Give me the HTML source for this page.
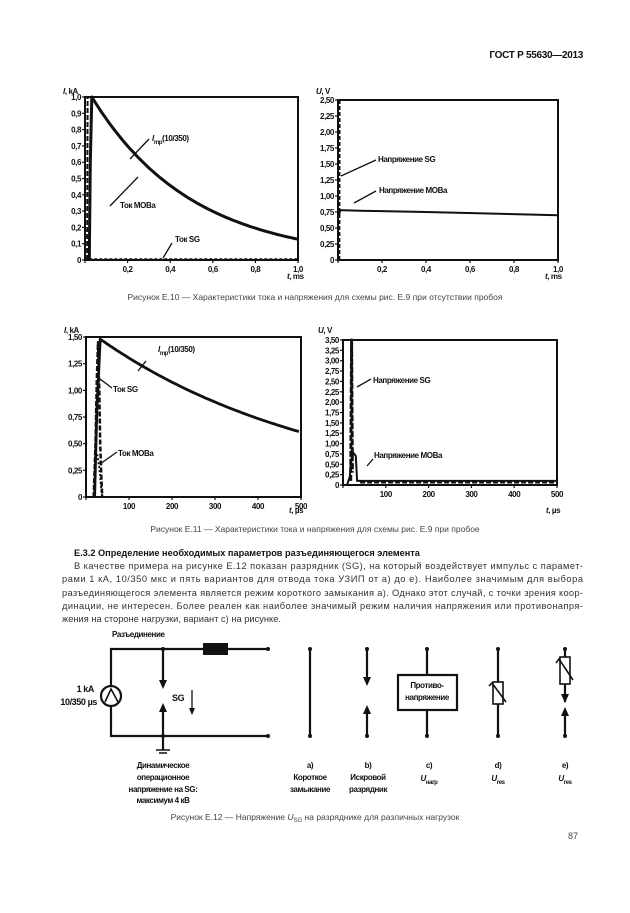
<!DOCTYPE html>
<html><head><meta charset="utf-8"><style>
html,body{margin:0;padding:0;background:#fff}
svg{display:block}
.t{font-family:"Liberation Sans",sans-serif;font-weight:bold;font-size:9px;fill:#111;letter-spacing:-0.3px}
.s{font-family:"Liberation Sans",sans-serif;font-weight:bold;font-size:8px;fill:#111;letter-spacing:-0.4px}
.c{font-family:"Liberation Sans",sans-serif;font-size:8.5px;fill:#444}
.p{font-family:"Liberation Sans",sans-serif;font-size:9.3px;fill:#333}
</style></head><body>
<svg id="sv" width="630" height="913" viewBox="0 0 630 913" xmlns="http://www.w3.org/2000/svg">
<text x="583" y="58" text-anchor="end" class="t" style="font-size:10px">ГОСТ Р 55630—2013</text>

<g id="charts" stroke="#111" fill="none"></g>

<!-- chart labels -->
<text x="63" y="94" class="s"><tspan font-style="italic">I</tspan>, kA</text>
<text x="316" y="94" class="s"><tspan font-style="italic">U</tspan>, V</text>
<text x="152" y="141" class="s"><tspan font-style="italic">I</tspan><tspan dy="3" font-size="6">mp</tspan><tspan dy="-3">(10/350)</tspan></text>
<text x="120" y="208" class="s">Ток MOBa</text>
<text x="175" y="242" class="s">Ток SG</text>
<text x="378" y="162" class="s">Напряжение SG</text>
<text x="379" y="193" class="s">Напряжение MOBa</text>
<text x="287" y="279" class="s"><tspan font-style="italic">t</tspan>, ms</text>
<text x="545" y="279" class="s"><tspan font-style="italic">t</tspan>, ms</text>
<text x="315" y="300" text-anchor="middle" class="c">Рисунок Е.10 — Характеристики тока и напряжения для схемы  рис. Е.9 при отсутствии пробоя</text>

<text x="64" y="333" class="s"><tspan font-style="italic">I</tspan>, kA</text>
<text x="318" y="333" class="s"><tspan font-style="italic">U</tspan>, V</text>
<text x="158" y="352" class="s"><tspan font-style="italic">I</tspan><tspan dy="3" font-size="6">mp</tspan><tspan dy="-3">(10/350)</tspan></text>
<text x="113" y="392" class="s">Ток SG</text>
<text x="118" y="456" class="s">Ток MOBa</text>
<text x="373" y="383" class="s">Напряжение SG</text>
<text x="374" y="458" class="s">Напряжение MOBa</text>
<text x="289" y="513" class="s"><tspan font-style="italic">t</tspan>, µs</text>
<text x="546" y="513" class="s"><tspan font-style="italic">t</tspan>, µs</text>
<text x="315" y="532" text-anchor="middle" class="c">Рисунок Е.11 — Характеристики тока и напряжения для схемы рис. Е.9 при пробое</text>

<!-- text block -->
<text x="74" y="556" class="t" style="font-size:9.2px;letter-spacing:0">Е.3.2 Определение необходимых параметров разъединяющегося элемента</text>
<text x="74" y="569" class="p" textLength="509">В качестве примера на рисунке Е.12 показан разрядник (SG), на который воздействует импульс с парамет-</text>
<text x="62" y="582" class="p" textLength="521">рами 1 кА, 10/350 мкс и пять вариантов для отвода тока УЗИП от а) до е). Наиболее значимым  для выбора</text>
<text x="62" y="596" class="p" textLength="521">разъединяющегося элемента является режим короткого замыкания а). Однако этот случай, с точки зрения коор-</text>
<text x="62" y="609" class="p" textLength="521">динации, не интересен. Более реален как наиболее значимый режим наличия напряжения или противонапря-</text>
<text x="62" y="622" class="p">жения на стороне нагрузки, вариант с) на рисунке.</text>

<!-- circuit -->
<g stroke="#111" stroke-width="2.2" fill="none">
<path d="M111 686 V649 H268 M111 706 V736 H268"/>
<circle cx="111" cy="696" r="10"/>
<path d="M105 702 L111 689 L118 702" stroke-width="1.6"/>
<path d="M163 649 V685 M163 707 V750"/>
<path d="M156 750 H170 M159 753 H167" stroke-width="1.5"/>
<path d="M192 690 V712" stroke-width="1.3"/>
<path d="M310 649 V736"/>
<path d="M367 649 V683 M367 710 V736"/>
<path d="M427 649 V675 M427 710 V736"/>
<rect x="398" y="675" width="59" height="35"/>
<path d="M498 649 V682 M498 704 V736"/>
<rect x="493" y="682" width="10" height="22" stroke-width="1.6"/>
<path d="M489 686 L492 683 L506 702" stroke-width="1.6"/>
<path d="M565 649 V657 M565 684 V702 M565 711 V736"/>
<rect x="560" y="657" width="10" height="27" stroke-width="1.6"/>
<path d="M556 663 L559 659 L573 680" stroke-width="1.6"/>
</g>
<rect x="203" y="643" width="25" height="12" fill="#111"/>
<g fill="#111">
<circle cx="163" cy="649" r="2"/><circle cx="268" cy="649" r="2"/><circle cx="268" cy="736" r="2"/><circle cx="163" cy="736" r="2"/>
<circle cx="310" cy="649" r="2"/><circle cx="310" cy="736" r="2"/>
<circle cx="367" cy="649" r="2"/><circle cx="367" cy="736" r="2"/>
<circle cx="427" cy="649" r="2"/><circle cx="427" cy="736" r="2"/>
<circle cx="498" cy="649" r="2"/><circle cx="498" cy="736" r="2"/>
<circle cx="565" cy="649" r="2"/><circle cx="565" cy="736" r="2"/>
<path d="M159 680 L167 680 L163 689 Z M159 712 L167 712 L163 703 Z"/>
<path d="M189 708 L195 708 L192 715 Z"/>
<path d="M363 677 L371 677 L367 686 Z M363 714 L371 714 L367 705 Z"/>
<path d="M561 694 L569 694 L565 703 Z M561 716 L569 716 L565 707 Z"/>
</g>
<text x="112" y="637" class="s">Разъединение</text>
<text x="172" y="701" class="s" style="font-size:9px">SG</text>
<text x="94" y="692" text-anchor="end" class="s" style="font-size:9px">1 kA</text>
<text x="97" y="705" text-anchor="end" class="s" style="font-size:9px">10/350 µs</text>
<g class="s" text-anchor="middle">
<text x="163" y="768">Динамическое</text><text x="163" y="780">операционное</text><text x="163" y="792">напряжение на SG:</text><text x="163" y="803">максимум 4 кВ</text>
<text x="310" y="768">a)</text><text x="310" y="780">Короткое</text><text x="310" y="792">замыкание</text>
<text x="368" y="768">b)</text><text x="368" y="780">Искровой</text><text x="368" y="792">разрядник</text>
<text x="427" y="688">Противо-</text><text x="427" y="700">напряжение</text>
<text x="429" y="768">c)</text><text x="429" y="781"><tspan font-style="italic">U</tspan><tspan font-size="6" dy="3">нагр</tspan></text>
<text x="498" y="768">d)</text><text x="498" y="781"><tspan font-style="italic">U</tspan><tspan font-size="6" dy="3">res</tspan></text>
<text x="565" y="768">e)</text><text x="565" y="781"><tspan font-style="italic">U</tspan><tspan font-size="6" dy="3">res</tspan></text>
</g>
<text x="315" y="820" text-anchor="middle" class="c">Рисунок Е.12 — Напряжение <tspan font-style="italic">U</tspan><tspan font-size="6" dy="2">SG</tspan><tspan dy="-2"> на разряднике для различных нагрузок</tspan></text>
<text x="578" y="839" text-anchor="end" class="c" style="font-size:9px">87</text>
</svg>
<script>
(function(){
var g=document.getElementById('charts'),NS='http://www.w3.org/2000/svg';
function el(n,a,p){var e=document.createElementNS(NS,n);for(var k in a)e.setAttribute(k,a[k]);(p||g).appendChild(e);return e;}
function txt(x,y,s,anchor){var e=el('text',{x:x,y:y,'class':'s','text-anchor':anchor||'middle',stroke:'none',fill:'#111'});e.textContent=s;}
function chart(o){
 var X=function(v){return o.x0+(v-o.xmin)/(o.xmax-o.xmin)*(o.x1-o.x0)},Y=function(v){return o.y1-(v/o.ymax)*(o.y1-o.y0)};
 el('rect',{x:o.x0,y:o.y0,width:o.x1-o.x0,height:o.y1-o.y0,'stroke-width':2});
 o.yt.forEach(function(v){el('line',{x1:o.x0-3,x2:o.x0,y1:Y(v),y2:Y(v),'stroke-width':1.2});txt(o.x0-4,Y(v)+3,v==0?'0':v.toFixed(o.yd).replace('.',','),'end');});
 o.xt.forEach(function(v){el('line',{x1:X(v),x2:X(v),y1:o.y1,y2:o.y1+3,'stroke-width':1.2});if(v!=0)txt(X(v),o.y1+12,o.xd?v.toFixed(o.xd).replace('.',','):String(v));});
 o.series.forEach(function(s){var d='';for(var i=0;i<s.pts.length;i++){var p=s.pts[i];d+=(i?'L':'M')+X(p[0]).toFixed(1)+' '+Y(p[1]).toFixed(1);}
  el('path',{d:d,'stroke-width':s.w||2.2,'stroke-dasharray':s.dash||'none','stroke-linejoin':'round'});});
 (o.lead||[]).forEach(function(l){el('line',{x1:l[0],y1:l[1],x2:l[2],y2:l[3],'stroke-width':1.3});});
}
function gen(a,b,n,f){var r=[];for(var i=0;i<=n;i++){var t=a+(b-a)*i/n;r.push([t,f(t)]);}return r;}
var yt1=[],i;for(i=0;i<=10;i++)yt1.push(i/10);
var yt2=[];for(i=0;i<=10;i++)yt2.push(i*0.25);
chart({x0:85,x1:298,y0:97,y1:260,xmin:0,xmax:1,ymax:1,yt:yt1,yd:1,xt:[0,0.2,0.4,0.6,0.8,1.0],xd:1,
 series:[{pts:[[0.02,0],[0.025,0.6],[0.032,1.0]].concat(gen(0.032,1,60,function(t){return Math.exp(-(t-0.032)/0.47);})),w:3},
 {pts:[[0.01,0],[0.012,1.0]],dash:'5,2',w:2},{pts:[[0.02,0.005],[1,0.005]],dash:'3,2',w:2}],
 lead:[[149,139,130,159],[110,206,138,177],[172,243,163,258]]});
chart({x0:338,x1:558,y0:100,y1:260,xmin:0,xmax:1,ymax:2.5,yt:yt2,yd:2,xt:[0,0.2,0.4,0.6,0.8,1.0],xd:1,
 series:[{pts:[[0.005,0],[0.006,2.5]],dash:'4,2',w:2.5},{pts:[[0.005,0.7],[0.01,0.78],[0.1,0.77],[0.4,0.75],[1,0.70]],w:2}],
 lead:[[341,176,376,160],[354,203,376,191]]});
yt1=[];for(i=0;i<=6;i++)yt1.push(i*0.25);
chart({x0:86,x1:301,y0:337,y1:497,xmin:0,xmax:500,ymax:1.5,yt:yt1,yd:2,xt:[0,100,200,300,400,500],
 series:[{pts:[[20,0],[25,0.8],[33,1.48]].concat(gen(33,495,60,function(t){return 1.48*Math.exp(-(t-33)/525);})),w:2.8},
 {pts:[[18,0],[22,0.5],[25,1.1],[28,1.45],[31,1.0],[33,0.5],[36,0.15],[38,0]],dash:'5,2',w:2.5},
 {pts:[[26,0.4],[30,0.3],[33,0.2],[36,0.05],[38,0]],dash:'2,2',w:2}],
 lead:[[146,361,138,371],[112,388,100,379],[117,452,100,464]]});
yt2=[];for(i=0;i<=14;i++)yt2.push(i*0.25);
chart({x0:343,x1:557,y0:340,y1:485,xmin:0,xmax:500,ymax:3.5,yt:yt2,yd:2,xt:[0,100,200,300,400,500],
 series:[{pts:[[18,0.1],[20,3.5],[22,0.3]],dash:'6,2',w:3},
 {pts:[[10,0.02],[16,0.2],[19,0.6],[24,0.78],[30,0.7],[33,0.1],[38,0.1],[500,0.1]],w:2},
 {pts:[[40,0.06],[500,0.06]],dash:'5,2',w:2}],
 lead:[[357,387,371,379],[367,466,373,459]]});
})();
</script>
</body></html>
